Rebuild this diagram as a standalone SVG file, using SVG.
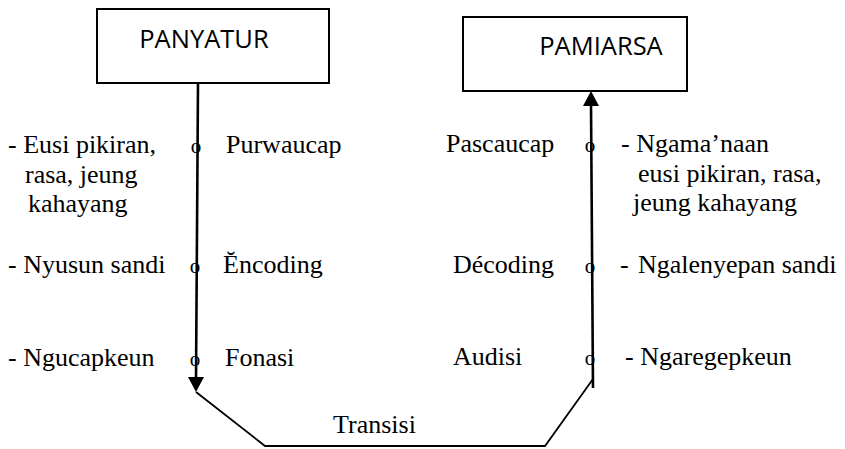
<svg xmlns="http://www.w3.org/2000/svg" width="845" height="449" viewBox="0 0 845 449">
  <style>
    .box { fill: #ffffff; stroke: #000000; stroke-width: 2; }
    .title { font-family: "Open Sans", "Noto Sans", "Liberation Sans", sans-serif; font-size: 25.5px; fill: #000000; }
    .t { font-family: "Liberation Serif", "Times New Roman", serif; font-size: 26px; fill: #000000; }
    .dot { font-family: "Liberation Serif", "Times New Roman", serif; font-size: 21px; fill: #000000; text-anchor: middle; }
    .main { fill: none; stroke: #000000; stroke-width: 2.6; }
    .link { fill: none; stroke: #000000; stroke-width: 1.8; }
    .head { fill: #000000; }
  </style>

  <g id="panyatur">
    <rect class="box" x="97" y="9" width="232" height="74"/>
    <text class="title" x="204" y="48" text-anchor="middle">PANYATUR</text>
  </g>

  <g id="pamiarsa">
    <rect class="box" x="463" y="17" width="224" height="74"/>
    <text class="title" x="601" y="55" text-anchor="middle">PAMIARSA</text>
  </g>

  <g id="connectors">
    <!-- speaker side, running down -->
    <line class="main" x1="198" y1="83" x2="196" y2="380"/>
    <polygon class="head" points="196,392 188,377 204,377"/>
    <!-- transition path along the bottom -->
    <polyline class="link" points="196,392 265,446 545,446 593,379"/>
    <!-- listener side, running up -->
    <line class="main" x1="593" y1="388" x2="591" y2="104"/>
    <polygon class="head" points="591,91 583,106 599,106"/>
  </g>

  <g id="speaker-labels">
    <text class="t" x="8" y="153">- Eusi pikiran,</text>
    <text class="t" x="25" y="183">rasa, jeung</text>
    <text class="t" x="28" y="212">kahayang</text>
    <text class="t" x="8" y="273">- Nyusun sandi</text>
    <text class="t" x="8" y="366">- Ngucapkeun</text>
  </g>

  <g id="speaker-stages">
    <text class="dot" x="196" y="153">o</text>
    <text class="t" x="226" y="153">Purwaucap</text>
    <text class="dot" x="195" y="273">o</text>
    <text class="t" x="223" y="273">Ĕncoding</text>
    <text class="dot" x="195" y="366">o</text>
    <text class="t" x="225" y="366">Fonasi</text>
  </g>

  <g id="listener-stages">
    <text class="t" x="446" y="152">Pascaucap</text>
    <text class="dot" x="590" y="152">o</text>
    <text class="t" x="453" y="273">Décoding</text>
    <text class="dot" x="590" y="273">o</text>
    <text class="t" x="453" y="365">Audisi</text>
    <text class="dot" x="590" y="365">o</text>
  </g>

  <g id="listener-labels">
    <text class="t" x="621" y="152">- Ngama’naan</text>
    <text class="t" x="638" y="182">eusi pikiran, rasa,</text>
    <text class="t" x="633" y="211">jeung kahayang</text>
    <text class="t" x="620" y="273">-</text>
    <text class="t" x="638" y="273">Ngalenyepan sandi</text>
    <text class="t" x="625" y="365">- Ngaregepkeun</text>
  </g>

  <g id="transition">
    <text class="t" x="333" y="433">Transisi</text>
  </g>
</svg>
